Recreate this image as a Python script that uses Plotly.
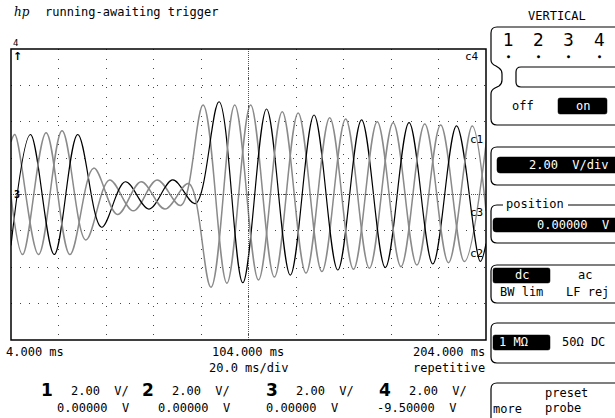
import plotly.graph_objects as go

W, H = 615, 418

# ---------------- data (read from the screen) ----------------
# time in ms, voltage in V (2 V/div, 0 V centre)
ch1_t = [4.0, 5.6, 15.6, 25.5, 35.5, 45.5, 55.5, 65.5, 75.5, 84.9, 94.9, 104.9, 114.9, 124.9,
         134.9, 144.9, 154.9, 164.9, 174.9, 184.9, 194.9, 204.9]
ch1_v = [2.9, 3.3, -3.3, 3.5, -2.5, 0.8, -0.9, 0.8, -0.6, 4.92, -4.88, 4.92, -4.54, 4.48,
         -4.24, 4.15, -4.06, 3.95, -3.88, 3.82, -3.69, 3.75]

ch2_t = [4.0, 12.2, 22.2, 32.1, 42.1, 52.1, 62.1, 72.1, 81.6, 91.6, 101.6, 111.6, 121.6, 131.6,
         141.6, 151.6, 161.6, 171.6, 181.6, 191.6, 201.6, 204.0]
ch2_v = [-2.8, 3.3, -3.3, 3.3, -1.8, 0.7, -0.8, 0.8, -0.5, 5.10, -4.85, 4.70, -4.43, 4.37,
         -4.15, 4.10, -4.02, 3.95, -3.82, 3.77, -3.68, -2.7]

ch3_t = [4.0, 8.9, 18.8, 28.8, 38.8, 48.8, 58.8, 68.8, 78.8, 88.2, 98.2, 108.2, 118.2, 128.2,
         138.2, 148.2, 158.2, 168.2, 178.2, 188.2, 198.2, 204.0]
ch3_v = [-0.1, -3.3, 3.4, -3.3, 1.45, -1.1, 0.7, -0.8, 0.6, -5.10, 4.92, -4.70, 4.55, -4.32,
         4.22, -4.11, 4.00, -3.97, 3.88, -3.75, 3.77, -0.9]

x_ticks = ["4.000 ms", "104.000 ms", "204.000 ms"]
ch_labels = ["1", "2", "3", "4"]
ch_scale = ["2.00  V/", "2.00  V/", "2.00  V/", "2.00  V/"]
ch_offset = ["0.00000  V", "0.00000  V", "0.00000  V", "-9.50000  V"]

# ---------------- geometry ----------------
PX0, PX1, PY0, PY1 = 11, 486, 49, 340
FONT = "DejaVu Sans Mono"


def px(x):
    return x / W


def py(y):
    return 1 - y / H


fig = go.Figure()

styles = {"1": ("#8a8a8a", 1.5), "2": ("#000000", 1.2), "3": ("#8a8a8a", 1.5)}
for name, t, v in (("1", ch1_t, ch1_v), ("2", ch2_t, ch2_v), ("3", ch3_t, ch3_v)):
    c, w = styles[name]
    fig.add_trace(go.Scatter(x=t, y=v, mode="lines",
                             line=dict(color=c, width=w, shape="spline", smoothing=1.0),
                             hoverinfo="skip", showlegend=False))

fig.update_layout(
    width=W, height=H, autosize=False,
    margin=dict(l=0, r=0, t=0, b=0, pad=0),
    paper_bgcolor="white", plot_bgcolor="white",
    showlegend=False,
    xaxis=dict(domain=[px(PX0), px(PX1)], range=[4, 204], tick0=4, dtick=20,
               showgrid=True, gridcolor="#444", gridwidth=1, griddash="1px,8.5px",
               showticklabels=False, zeroline=False, ticks="", fixedrange=True,
               showline=False),
    yaxis=dict(domain=[py(PY1), py(PY0)], range=[-8, 8], tick0=0, dtick=2,
               showgrid=True, gridcolor="#444", gridwidth=1, griddash="1px,8.1px",
               showticklabels=False, zeroline=False, ticks="", fixedrange=True,
               showline=False),
)

shapes = []
# centre lines
shapes.append(dict(type="line", xref="x", yref="y", x0=104, x1=104, y0=-8, y1=8,
                   line=dict(color="#555", width=1, dash="1px,1px")))
shapes.append(dict(type="line", xref="x", yref="y", x0=4, x1=204, y0=0, y1=0,
                   line=dict(color="#555", width=1, dash="1px,1px")))
# plot frame
shapes.append(dict(type="rect", xref="paper", yref="paper", x0=px(PX0), x1=px(PX1),
                   y0=py(PY1), y1=py(PY0), line=dict(color="black", width=1.5)))


def P(x, y):
    return f"{px(x):.5f},{py(y):.5f}"


def rr_path(x0, y0, x1, y1, r):
    return ("M" + P(x0 + r, y0) + " L" + P(x1 - r, y0) + " Q" + P(x1, y0) + " " + P(x1, y0 + r) +
            " L" + P(x1, y1 - r) + " Q" + P(x1, y1) + " " + P(x1 - r, y1) +
            " L" + P(x0 + r, y1) + " Q" + P(x0, y1) + " " + P(x0, y1 - r) +
            " L" + P(x0, y0 + r) + " Q" + P(x0, y0) + " " + P(x0 + r, y0) + " Z")


def box(x0, y0, x1, y1, r=5, fill=None, lw=1.2):
    shapes.append(dict(type="path", xref="paper", yref="paper", path=rr_path(x0, y0, x1, y1, r),
                       line=dict(color="black", width=lw),
                       fillcolor=fill if fill else "rgba(0,0,0,0)"))


# VERTICAL panel with notch
notch = ("M" + P(630, 27) + " L" + P(497, 27) + " Q" + P(491, 27) + " " + P(491, 33) +
         " L" + P(491, 60) + " Q" + P(491, 64) + " " + P(496, 66) + " L" + P(499, 68) +
         " Q" + P(502, 70) + " " + P(502, 74) + " L" + P(502, 80) + " Q" + P(502, 84) + " " + P(499, 86) +
         " L" + P(495, 88) + " Q" + P(491, 90) + " " + P(491, 94) +
         " L" + P(491, 119) + " Q" + P(491, 125) + " " + P(497, 125) + " L" + P(630, 125))
shapes.append(dict(type="path", xref="paper", yref="paper", path=notch,
                   line=dict(color="black", width=1.2)))
box(516, 67, 640, 87, r=5)
box(558, 98, 607, 114, r=2, fill="black", lw=0.5)

box(491, 147, 640, 185, r=6)
box(497, 157, 640, 173, r=3, fill="black", lw=0.5)

box(491, 205, 640, 243, r=6)
shapes.append(dict(type="rect", xref="paper", yref="paper", x0=px(503), x1=px(568),
                   y0=py(209), y1=py(200), fillcolor="white", line=dict(width=0)))
box(493, 218, 640, 232, r=3, fill="black", lw=0.5)

box(491, 265, 640, 303, r=6)
box(493, 268, 550, 283, r=2, fill="black", lw=0.5)

box(491, 323, 640, 363, r=6)
box(493, 335, 550, 350, r=2, fill="black", lw=0.5)

box(491, 383, 640, 440, r=6)

fig.update_layout(shapes=shapes)

ann = []


def text(x, y, s, size=12, anchor="left", color="black", bold=False, italic=False, family=FONT):
    if bold:
        s = "<b>" + s + "</b>"
    if italic:
        s = "<i>" + s + "</i>"
    ann.append(dict(x=px(x), y=py(y), xref="paper", yref="paper", text=s, showarrow=False,
                    xanchor=anchor, yanchor="middle",
                    font=dict(family=family, size=size, color=color)))


text(12, 12, "hp", size=12, italic=True, family="DejaVu Serif")
text(43, 12, "running-awaiting trigger", size=12)

text(15, 43, "4", size=9, anchor="center")
text(17, 57, "↑", size=11, anchor="center", bold=True, family="DejaVu Sans")
text(481, 57, "c4", size=11, anchor="right")
text(485, 139, "c1", size=11, anchor="right")
text(485, 212, "c3", size=11, anchor="right")
text(485, 253, "c2", size=11, anchor="right")
text(17, 194, "3", size=10, anchor="center", bold=True)

text(4, 352, x_ticks[0], size=12)
text(248, 352, x_ticks[1], size=12, anchor="center")
text(487, 352, x_ticks[2], size=12, anchor="right")
text(248, 368, "20.0 ms/div", size=12, anchor="center")
text(487, 368, "repetitive", size=12, anchor="right")

big_x = [47, 148, 272, 385]
for i in range(4):
    text(big_x[i], 390, ch_labels[i], size=17, anchor="center", bold=True, family="DejaVu Sans")
    text(big_x[i] + 22, 391, ch_scale[i], size=12)
off_x = [55, 156, 264, 375]
for i in range(4):
    text(off_x[i], 408, ch_offset[i], size=12)

# right panel
text(557, 16, "VERTICAL", size=12, anchor="center")
for i, xx in enumerate([508, 538, 568, 599]):
    text(xx, 40, ch_labels[i], size=17, anchor="center", family="DejaVu Sans")
    text(xx, 56, "●", size=5, anchor="center")
text(523, 106, "off", size=12, anchor="center")
text(583, 106, "on", size=12, anchor="center", color="white")
text(610, 165, "2.00  V/div", size=12, anchor="right", color="white")
text(535, 204, "position", size=12, anchor="center")
text(611, 225, "0.00000  V", size=12, anchor="right", color="white")
text(522, 275, "dc", size=12, anchor="center", color="white")
text(585, 275, "ac", size=12, anchor="center")
text(521, 292, "BW lim", size=12, anchor="center")
text(587, 292, "LF rej", size=12, anchor="center")
text(497, 342, "1 MΩ", size=12, color="white")
text(583, 342, "50Ω DC", size=12, anchor="center")
text(507, 409, "more", size=12, anchor="center")
text(543, 393, "preset", size=12)
text(543, 408, "probe", size=12)

fig.update_layout(annotations=ann)
fig.write_html("out.html", config={"displayModeBar": False, "staticPlot": True},
               post_script="document.body.style.margin='0';document.body.style.overflow='hidden';")
